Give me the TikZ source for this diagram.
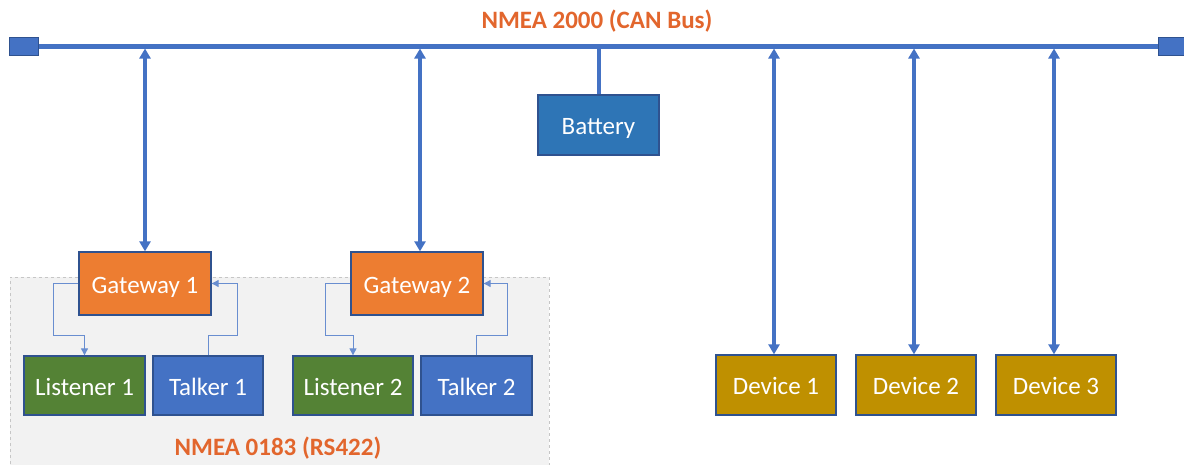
\documentclass[tikz,border=0pt]{standalone}
\usepackage{fontspec}
\setmainfont{Carlito}
\usetikzlibrary{arrows.meta}
\definecolor{busblue}{RGB}{68,114,196}
\definecolor{edgeblue}{RGB}{47,82,143}
\definecolor{gwora}{RGB}{237,125,49}
\definecolor{lsgreen}{RGB}{84,130,53}
\definecolor{batblue}{RGB}{46,117,182}
\definecolor{devgold}{RGB}{191,144,0}
\definecolor{titleora}{RGB}{226,102,45}
\begin{document}
\begin{tikzpicture}[x=1pt,y=-1pt]
        \tikzstyle{unit}=[draw=edgeblue,line width=1.3pt,text=white,inner sep=0pt,minimum height=59pt,text height=21.5pt,text depth=2.5pt,font=\fontsize{25}{29}\selectfont]
        \tikzstyle{gateway}=[unit,fill=gwora,minimum width=132pt,minimum height=63pt]
        \tikzstyle{listener}=[unit,fill=lsgreen]
        \tikzstyle{talker}=[unit,fill=busblue]
        \tikzstyle{device}=[unit,fill=devgold,minimum width=120pt,minimum height=60pt]
        \tikzstyle{term}=[draw=edgeblue,line width=1pt,fill=busblue,inner sep=0pt,minimum width=29pt,minimum height=18pt]
        \tikzstyle{drop}=[draw=busblue,line width=4pt,{Triangle[width=11pt,length=10pt]}-{Triangle[width=11pt,length=10pt]}]
        \tikzstyle{link}=[draw=busblue!80,line width=0.9pt,-{Triangle[width=7pt,length=7pt]}]
        \tikzstyle{title}=[text=titleora,font=\fontsize{25}{29}\selectfont\bfseries]
        \useasboundingbox (0,0) rectangle (1184,464);
        % NMEA 0183 area
        \fill[gray!10] (10,277) rectangle (549,470);
        \draw[gray!45,dashed,line width=0.8pt] (10,470) -- (10,277) -- (549,277) -- (549,470);
        \node [title] (rs) at (278,448) {NMEA 0183 (RS422)};
        % bus
        \node [title] (can) at (597,21) {NMEA 2000 (CAN Bus)};
        \node [term] (tl) at (23.5,46) {};
        \node [term] (tr) at (1172.5,46) {};
        \draw[busblue,line width=5pt] (tl.east) -- (tr.west);
        \coordinate (b1) at (145,48.5);
        \coordinate (b2) at (420,48.5);
        \coordinate (b3) at (774,48.5);
        \coordinate (b4) at (914,48.5);
        \coordinate (b5) at (1054,48.5);
        % gateways and nmea 0183 side
        \node [gateway] (gw1) at (145,283.5) {Gateway 1};
        \node [gateway] (gw2) at (417,283.5) {Gateway 2};
        \node [listener,minimum width=121pt] (ls1) at (84.5,385.5) {Listener 1};
        \node [talker,minimum width=110pt] (tk1) at (208,385.5) {Talker 1};
        \node [listener,minimum width=120pt] (ls2) at (353,385.5) {Listener 2};
        \node [talker,minimum width=111pt] (tk2) at (476.5,385.5) {Talker 2};
        \path[link] (gw1.west) -| ++(-25,52) -| (ls1.north);
        \path[link] (tk1.north) |- ++(29,-20) |- (gw1.east);
        \path[link] (gw2.west) -| ++(-25,52) -| (ls2.north);
        \path[link] (tk2.north) |- ++(31,-20) |- (gw2.east);
        \path[drop] (b1) -- (b1 |- gw1.north);
        \path[drop] (b2) -- (b2 |- gw2.north);
        % battery
        \node [unit,fill=batblue,minimum width=121pt,minimum height=60pt] (bat) at (598.5,125) {Battery};
        \draw[busblue,line width=4pt] (bat.north |- tl.center) -- (bat.north);
        % devices
        \node [device] (d1) at (776,385) {Device 1};
        \node [device] (d2) at (916,385) {Device 2};
        \node [device] (d3) at (1056,385) {Device 3};
        \path[drop] (b3) -- (b3 |- d1.north);
        \path[drop] (b4) -- (b4 |- d2.north);
        \path[drop] (b5) -- (b5 |- d3.north);
\end{tikzpicture}
\end{document}
